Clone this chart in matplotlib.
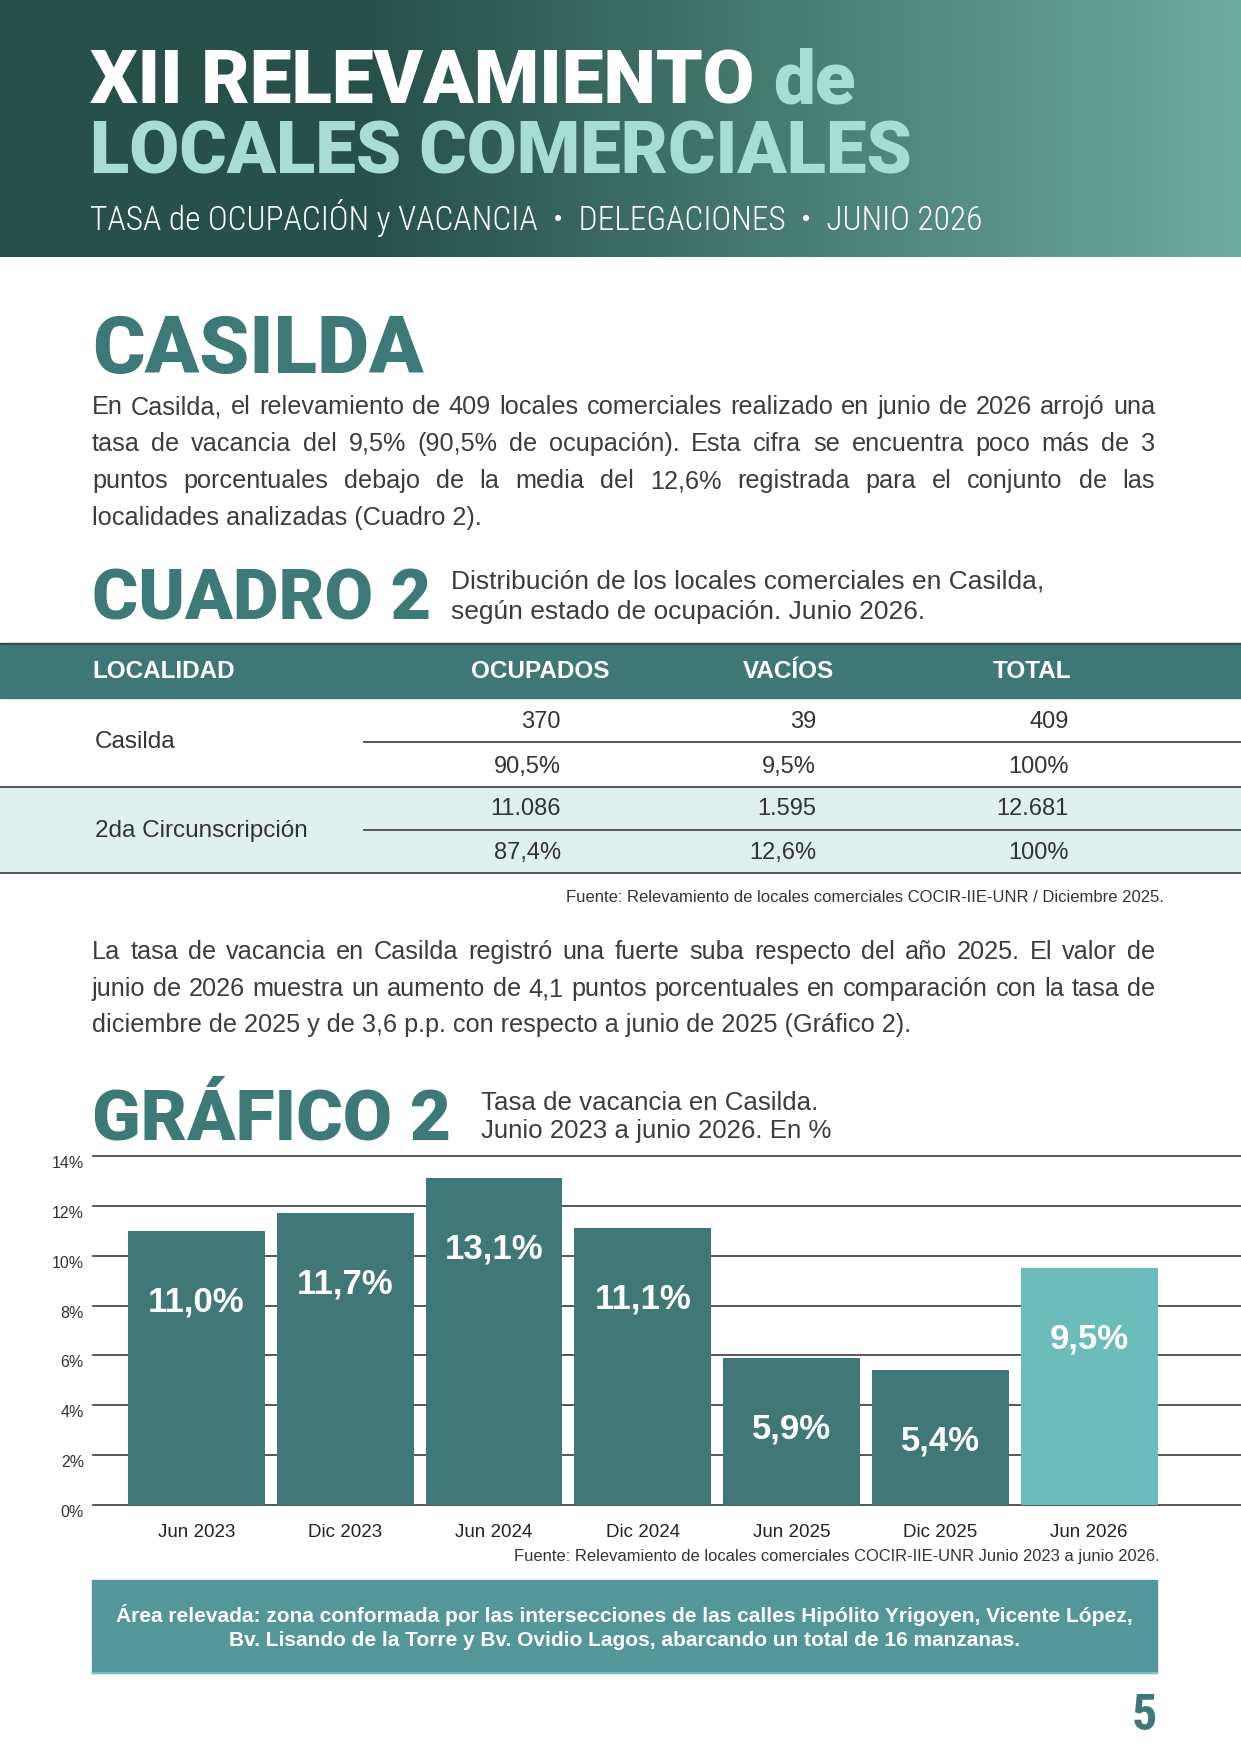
import numpy as np
import matplotlib
matplotlib.use('Agg')
import matplotlib.pyplot as plt
import matplotlib.font_manager as fm
from matplotlib.patches import Rectangle
from matplotlib.transforms import ScaledTranslation
from matplotlib.colors import to_rgb

# ---------------- data ----------------
periodos = ['Jun 2023', 'Dic 2023', 'Jun 2024', 'Dic 2024', 'Jun 2025', 'Dic 2025', 'Jun 2026']
vacancia = [11.0, 11.7, 13.1, 11.1, 5.9, 5.4, 9.5]
destacado = [False, False, False, False, False, False, True]
y_ticks = [0, 2, 4, 6, 8, 10, 12, 14]

tabla_cols = ['LOCALIDAD', 'OCUPADOS', 'VACÍOS', 'TOTAL']
localidades = ['Casilda', '2da Circunscripción']
ocupados = [370, 11086]
vacios = [39, 1595]
totales = [409, 12681]
pct_ocupados = [90.5, 87.4]
pct_vacios = [9.5, 12.6]
pct_totales = [100, 100]

parrafo1 = ["En Casilda, el relevamiento de 409 locales comerciales realizado en junio de 2026 arrojó una",
            "tasa de vacancia del 9,5% (90,5% de ocupación). Esta cifra se encuentra poco más de 3",
            "puntos porcentuales debajo de la media del 12,6% registrada para el conjunto de las",
            "localidades analizadas (Cuadro 2)."]
parrafo2 = ["La tasa de vacancia en Casilda registró una fuerte suba respecto del año 2025. El valor de",
            "junio de 2026 muestra un aumento de 4,1 puntos porcentuales en comparación con la tasa de",
            "diciembre de 2025 y de 3,6 p.p. con respecto a junio de 2025 (Gráfico 2)."]

# ---------------- fonts ----------------
ttf = fm.fontManager.ttflist
names = {f.name for f in ttf}
roboto_black = any(f.name == 'Roboto' and f.weight in (900, 'black', 'heavy') for f in ttf)
if 'Roboto' in names:
    HEAD = dict(family='Roboto', weight=900 if roboto_black else 'bold')
else:
    HEAD = dict(family='DejaVu Sans', weight='bold')
if 'Roboto Condensed' in names:
    LIGHT = dict(family='Roboto Condensed', weight='light')
    CBOLD = dict(family='Roboto Condensed', weight='bold')
else:
    LIGHT = dict(family='DejaVu Sans', stretch='condensed', weight='normal')
    CBOLD = dict(family='DejaVu Sans', stretch='condensed', weight='bold')
BODY = 'Liberation Sans' if 'Liberation Sans' in names else 'DejaVu Sans'

TEAL = '#3d7a77'
TXT = '#3c3c3c'

W, H = 1241, 1754
fig = plt.figure(figsize=(W / 100, H / 100), dpi=100)
fig.patch.set_facecolor('white')
pg = fig.add_axes([0, 0, 1, 1])
pg.set_xlim(0, W)
pg.set_ylim(H, 0)
pg.axis('off')
R = fig.canvas.get_renderer()


def width_of(t):
    return t.get_window_extent(R).width


def fit(x, y, s, width, size0=20, **kw):
    t = pg.text(x, y, s, fontsize=size0, **kw)
    t.set_fontsize(size0 * width / width_of(t))
    return t


def justify(lines, x0, x1, ys, size, **kw):
    for i, (line, y) in enumerate(zip(lines, ys)):
        if i == len(lines) - 1:
            pg.text(x0, y, line, fontsize=size, ha='left', va='center', **kw)
            continue
        words = line.split(' ')
        ts = [pg.text(0, y, w, fontsize=size, ha='left', va='center', **kw) for w in words]
        ws = [width_of(t) for t in ts]
        gap = (x1 - x0 - sum(ws)) / (len(words) - 1)
        x = x0
        for t, w in zip(ts, ws):
            t.set_x(x)
            x += w + gap


# ---------------- header band ----------------
c0 = np.array(to_rgb('#27504a'))
c1 = np.array(to_rgb('#6cac9f'))
xs = np.linspace(0, 1, 600)
f = np.clip((xs - 0.30) / 0.70, 0, 1)
grad = (c0[None, :] * (1 - f[:, None]) + c1[None, :] * f[:, None])[None, :, :]
pg.imshow(grad, extent=[0, W, 257, 0], aspect='auto', zorder=0)
pg.set_xlim(0, W)
pg.set_ylim(H, 0)

full = 'XII RELEVAMIENTO de'
tf = fit(90, 104, full, 766, size0=40, color='white', va='baseline', ha='left', **HEAD)
fs = tf.get_fontsize()
tf.set_text('XII RELEVAMIENTO')
pg.text(90 + 766, 104, 'de', fontsize=fs, color='#a8ddd4', va='baseline', ha='right', **HEAD)
fit(90, 173, 'LOCALES COMERCIALES', 822, size0=40, color='#a8ddd4', va='baseline', ha='left', **HEAD)
fit(90, 230, 'TASA de OCUPACIÓN y VACANCIA  •  DELEGACIONES  •  JUNIO 2026', 895, size0=24,
    color='white', va='baseline', ha='left', **LIGHT)

# ---------------- section CASILDA ----------------
fit(92, 373, 'CASILDA', 331, size0=40, color=TEAL, va='baseline', ha='left', **HEAD)

probe = pg.text(0, 0, parrafo2[-1], fontsize=15, family=BODY)
body_size = 15 * 820 / width_of(probe)
probe.remove()
justify(parrafo1, 92, 1155, [407, 444, 481, 518], body_size, color=TXT, family=BODY)

# ---------------- CUADRO 2 ----------------
fit(92, 619, 'CUADRO 2', 339, size0=40, color=TEAL, va='baseline', ha='left', **HEAD)
cap1 = fit(451, 582, 'Distribución de los locales comerciales en Casilda,', 595, size0=16,
           color=TXT, va='center', ha='left', family=BODY)
pg.text(451, 612, 'según estado de ocupación. Junio 2026.', fontsize=cap1.get_fontsize(),
        color=TXT, va='center', ha='left', family=BODY)

pg.add_patch(Rectangle((0, 643), W, 55, color='#3e7876', zorder=1))
pg.plot([0, W], [643.5, 643.5], color='#2c4f4d', lw=1.5, zorder=2)
head_x = [92, 540, 788, 1032]
head_ha = ['left', 'center', 'center', 'center']
for lab, hx, ha in zip(tabla_cols, head_x, head_ha):
    pg.text(hx, 672, lab, fontsize=17.5, color='white', fontweight='bold', family=BODY, ha=ha, va='center')

pg.add_patch(Rectangle((0, 787), W, 86, color='#dff0ee', zorder=1))
for yl, x0 in [(742, 364), (787, 0), (830, 364), (873, 0)]:
    pg.plot([x0, W], [yl, yl], color='#4a4a4a', lw=1.3, zorder=2)


def fmt_int(v):
    return f'{v:,}'.replace(',', '.')


def fmt_pct(v):
    return (f'{v:.1f}'.replace('.', ',') if v < 100 else f'{int(v)}') + '%'


col_right = [561, 816, 1069]
row_y = [(722, 767, 742), (809, 853, 831)]
for i, loc in enumerate(localidades):
    ya, yb, yc = row_y[i]
    pg.text(95, yc, loc, fontsize=17.5, color='#333333', family=BODY, ha='left', va='center', zorder=3)
    for xr, vn, vp in zip(col_right, [ocupados[i], vacios[i], totales[i]],
                          [pct_ocupados[i], pct_vacios[i], pct_totales[i]]):
        pg.text(xr, ya, fmt_int(vn), fontsize=17, color='#333333', family=BODY, ha='right', va='center', zorder=3)
        pg.text(xr, yb, fmt_pct(vp), fontsize=17, color='#333333', family=BODY, ha='right', va='center', zorder=3)

fit(1164, 897, 'Fuente: Relevamiento de locales comerciales COCIR-IIE-UNR / Diciembre 2025.', 593,
    size0=11, color='#333333', family=BODY, ha='right', va='center')

justify(parrafo2, 92, 1155, [952, 989, 1025], body_size, color=TXT, family=BODY)

# ---------------- GRÁFICO 2 ----------------
fit(92, 1139, 'GRÁFICO 2', 359, size0=40, color=TEAL, va='baseline', ha='left', **HEAD)
cap2 = fit(481, 1131, 'Junio 2023 a junio 2026. En %', 352, size0=16,
           color=TXT, va='center', ha='left', family=BODY)
pg.text(481, 1103, 'Tasa de vacancia en Casilda.', fontsize=cap2.get_fontsize(),
        color=TXT, va='center', ha='left', family=BODY)

ax = fig.add_axes([93 / W, 1 - 1505 / H, (W - 93) / W, (1505 - 1156) / H])
ax.patch.set_alpha(0)
xpos = np.arange(len(periodos))
cols = ['#6dbcbc' if d else '#3f7877' for d in destacado]
ax.bar(xpos, vacancia, width=0.92, color=cols, zorder=3)
ax.set_xlim(-0.695, 7.02)
ax.set_ylim(0, 14)
for t in y_ticks:
    ax.axhline(t, color='#3a3a3a', lw=1.2, zorder=1, clip_on=False)
ax.set_yticks(y_ticks)
ax.set_yticklabels([f'{t}%' for t in y_ticks], family=BODY)
ax.set_xticks(xpos)
ax.set_xticklabels(periodos, family=BODY)
for s in ax.spines.values():
    s.set_visible(False)
ax.tick_params(length=0)
ax.tick_params(axis='y', pad=6.5, labelsize=11.5, labelcolor='#333333')
ax.tick_params(axis='x', pad=13.5, labelsize=13.5, labelcolor='#222222')
off = ScaledTranslation(0, -0.06, fig.dpi_scale_trans)
for lbl in ax.get_yticklabels():
    lbl.set_transform(lbl.get_transform() + off)
for xi, v in zip(xpos, vacancia):
    ax.text(xi, v - 2.85, f'{v:.1f}'.replace('.', ',') + '%', ha='center', va='center',
            color='white', fontsize=25, fontweight='bold', family=BODY, zorder=4)

fit(1160, 1556, 'Fuente: Relevamiento de locales comerciales COCIR-IIE-UNR Junio 2023 a junio 2026.', 643,
    size0=11, color='#333333', family=BODY, ha='right', va='center')

# ---------------- bottom box ----------------
pg.add_patch(Rectangle((92, 1580), 1065, 93, color='#53979a', zorder=1))
pg.plot([92, 1157], [1672.5, 1672.5], color='#8cc3c3', lw=1.2, zorder=2)
bx = fit(624.5, 1615, 'Área relevada: zona conformada por las intersecciones de las calles Hipólito Yrigoyen, Vicente López,',
         1007, size0=13, color='white', fontweight='bold', family=BODY, ha='center', va='center', zorder=3)
pg.text(624.5, 1640, 'Bv. Lisando de la Torre y Bv. Ovidio Lagos, abarcando un total de 16 manzanas.',
        fontsize=bx.get_fontsize(), color='white', fontweight='bold', family=BODY, ha='center', va='center', zorder=3)

pg.text(1157, 1730, '5', fontsize=36, color=TEAL, ha='right', va='baseline', **CBOLD)

fig.savefig('out.png', dpi=100)
